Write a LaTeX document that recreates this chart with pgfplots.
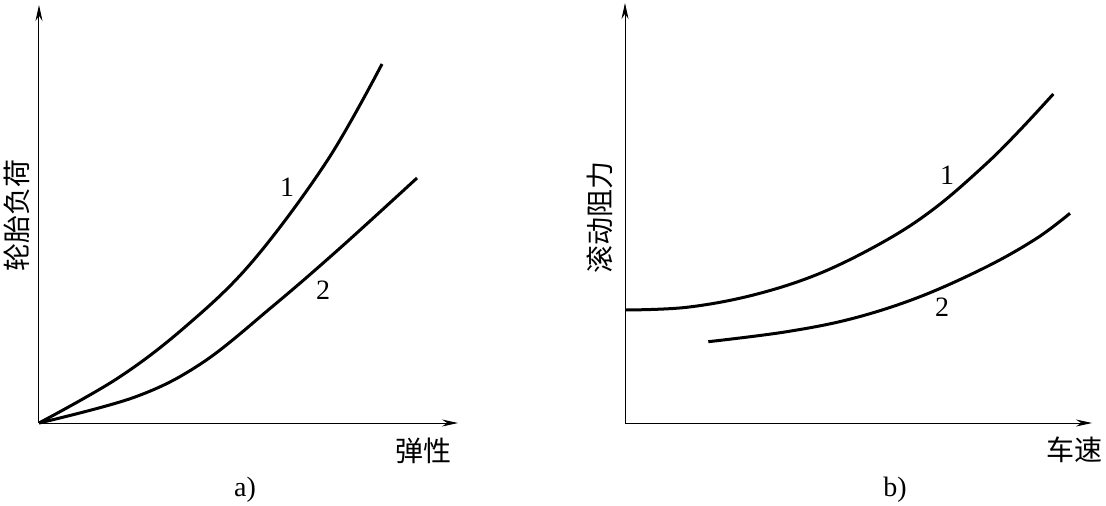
\documentclass[border=0pt]{standalone}
\usepackage{fontspec}
\setmainfont{Liberation Serif}
\newfontfamily\cjk{Noto Sans CJK SC}
\usepackage{pgfplots}
\pgfplotsset{compat=1.18}
\usetikzlibrary{arrows.meta}
\begin{document}
\begin{tikzpicture}
\useasboundingbox (0,0) rectangle (553pt,252.5pt);
\pgfplotsset{
  myax/.style={
    x=0.5pt, y=0.5pt, anchor=origin, clip=false,
    axis lines=left, ticks=none,
    axis line style={line width=0.5pt, -{Stealth[length=8pt,width=3.5pt]}},
  },
  crv/.style={black, line width=1.5pt, smooth, tension=0.6, mark=none},
}
% panel a
\begin{axis}[myax, at={(19.5pt,41pt)}, xmin=0, xmax=419, ymin=0, ymax=418]
\addplot[crv] coordinates {(0,0) (79,45) (146,96) (213,161) (288,262) (343,359)};
\addplot[crv] coordinates {(0,0) (96,26) (163,60) (234,117) (300,174) (378,245)};
\node[font=\fontsize{14}{14}\selectfont] at (axis cs:248,236) {1};
\node[font=\fontsize{14}{14}\selectfont] at (axis cs:284,133) {2};
\node[font=\fontsize{14}{14}\selectfont\cjk] at (axis cs:384,-28) {弹性};
\node[font=\fontsize{14}{14}\selectfont] at (axis cs:206,-67) {a)};
\node[font=\fontsize{14}{14}\selectfont\cjk, rotate=90] at (axis cs:-22,208) {轮胎负荷};
\end{axis}
% panel b
\begin{axis}[myax, at={(312.5pt,41pt)}, xmin=0, xmax=467, ymin=0, ymax=420]
\addplot[crv] coordinates {(0,113) (61.7,115.7) (128.3,128) (195,149.7) (261.7,183) (311.7,216.3) (361.7,259.7) (395,293) (428.3,329)};
\addplot[crv] coordinates {(83.3,81.3) (161.7,91.3) (228.3,104.7) (295,126.3) (361.7,156.3) (411.7,184.7) (445,209.7)};
\node[font=\fontsize{14}{14}\selectfont] at (axis cs:322,248) {1};
\node[font=\fontsize{14}{14}\selectfont] at (axis cs:317,116) {2};
\node[font=\fontsize{14}{14}\selectfont\cjk] at (axis cs:449,-27) {车速};
\node[font=\fontsize{14}{14}\selectfont] at (axis cs:270,-67) {b)};
\node[font=\fontsize{14}{14}\selectfont\cjk, rotate=90] at (axis cs:-25,206) {滚动阻力};
\end{axis}
\end{tikzpicture}
\end{document}
